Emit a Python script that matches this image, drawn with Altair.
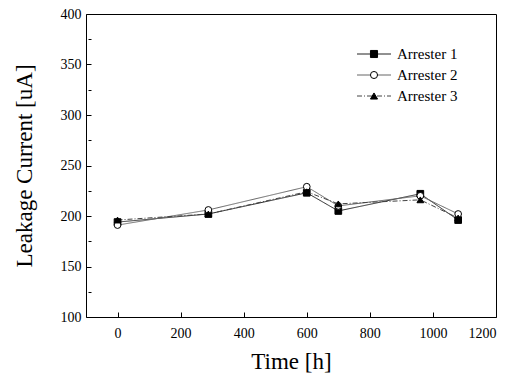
import altair as alt
import pandas as pd

time_h = [0, 288, 600, 700, 960, 1080]
arrester1 = [194, 202, 223, 205, 222, 196]
arrester2 = [191, 206, 229, 210, 220, 202]
arrester3 = [196, 202, 224, 212, 216, 198]

names = ["Arrester 1", "Arrester 2", "Arrester 3"]
series = [arrester1, arrester2, arrester3]

x_ticks = [0, 100, 200, 300, 400, 500, 600, 700, 800, 900, 1000, 1100, 1200]
y_ticks = [100, 125, 150, 175, 200, 225, 250, 275, 300, 325, 350, 375, 400]

rows = []
for n, vals in zip(names, series):
    for t, v in zip(time_h, vals):
        rows.append({"time": t, "current": v, "series": n})
df = pd.DataFrame(rows)
legend_df = pd.DataFrame({"series": names})

FONT = "Liberation Serif"
xscale = alt.Scale(domain=[-100, 1200], nice=False, zero=False)
yscale = alt.Scale(domain=[100, 400], nice=False, zero=False)

color_scale = alt.Scale(domain=names, range=["#222222", "#666666", "#444444"])
dash_scale = alt.Scale(domain=names, range=[[1, 0], [1, 0], [5, 2, 1, 2]])
shape_scale = alt.Scale(domain=names, range=["square", "circle", "triangle-up"])
fill_scale = alt.Scale(domain=names, range=["black", "white", "black"])
legend_y = alt.Y("series:N", scale=alt.Scale(type="point", domain=names, range=[40, 82], padding=0), axis=None)

x_axis = alt.Axis(values=x_ticks, orient="bottom", offset=-5,
                  tickSize={"condition": {"test": "datum.value % 200 !== 0", "value": 3}, "value": 5},
                  labelExpr="datum.value % 200 === 0 ? datum.label : ''",
                  format="d", labelPadding=9,
                  title="Time [h]", titlePadding=10)
y_axis = alt.Axis(values=y_ticks, orient="left", offset=-5,
                  tickSize={"condition": {"test": "datum.value % 50 !== 0", "value": 3}, "value": 5},
                  labelExpr="datum.value % 50 === 0 ? datum.label : ''",
                  format="d", labelPadding=5,
                  title="Leakage Current [uA]", titlePadding=24)

base = alt.Chart(df)

lines = base.mark_line(strokeWidth=1).encode(
    x=alt.X("time:Q", scale=xscale, axis=x_axis),
    y=alt.Y("current:Q", scale=yscale, axis=y_axis),
    color=alt.Color("series:N", scale=color_scale, legend=None),
    strokeDash=alt.StrokeDash("series:N", scale=dash_scale, legend=None),
)

points = base.mark_point(size=45, strokeWidth=1, opacity=1, color="black").encode(
    x=alt.X("time:Q", scale=xscale),
    y=alt.Y("current:Q", scale=yscale, axis=None),
    shape=alt.Shape("series:N", scale=shape_scale, legend=None),
    fill=alt.Fill("series:N", scale=fill_scale, legend=None),
)

leg_lines = alt.Chart(legend_df).mark_rule(strokeWidth=1).encode(
    x=alt.value(271), x2=alt.value(305),
    y=legend_y,
    color=alt.Color("series:N", scale=color_scale, legend=None),
    strokeDash=alt.StrokeDash("series:N", scale=dash_scale, legend=None),
)

leg_points = alt.Chart(legend_df).mark_point(size=50, strokeWidth=1, opacity=1, color="black").encode(
    x=alt.value(288),
    y=legend_y,
    shape=alt.Shape("series:N", scale=shape_scale, legend=None),
    fill=alt.Fill("series:N", scale=fill_scale, legend=None),
)

leg_text = alt.Chart(legend_df).mark_text(
    align="left", baseline="middle", font=FONT, fontSize=15, color="black"
).encode(
    x=alt.value(311),
    y=legend_y,
    text="series:N",
)

chart = alt.layer(lines, points, leg_lines, leg_points, leg_text).resolve_scale(
    y="independent"
).properties(
    width=410, height=303,
    background="white",
    autosize=alt.AutoSizeParams(type="none"),
    padding={"left": 78, "top": 6, "right": 15, "bottom": 58},
).configure_view(
    stroke="black", strokeWidth=1
).configure_axis(
    domain=False, grid=False, labelFont=FONT, labelFontSize=14, labelColor="black",
    tickColor="black", titleFont=FONT, titleFontSize=23, titleFontWeight="normal",
    titleColor="black",
)

chart.save("out.html", embed_options={"renderer": "svg", "actions": False})
